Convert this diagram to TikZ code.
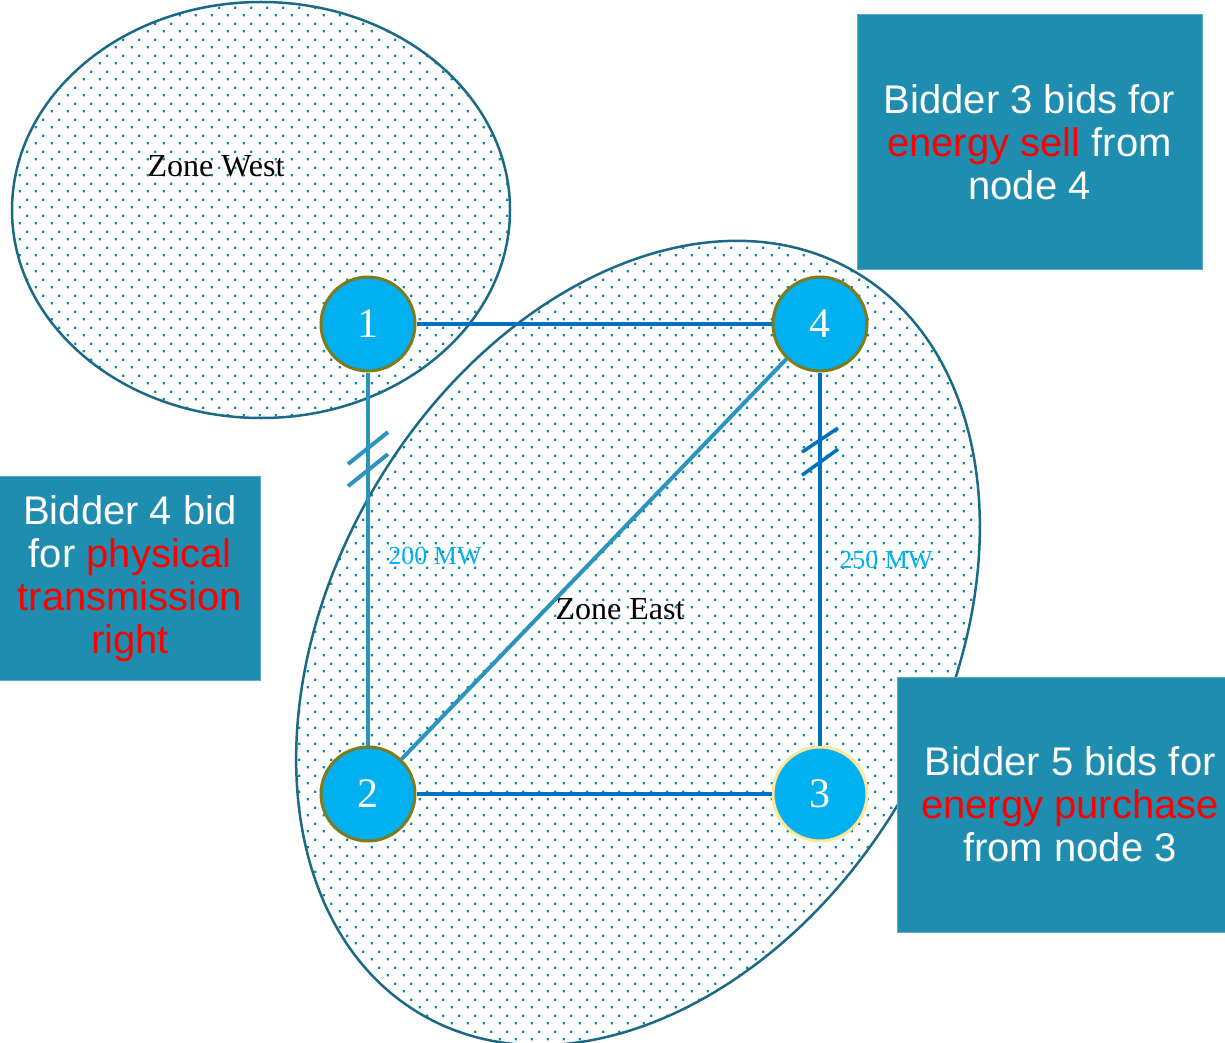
\documentclass[tikz,border=0pt]{standalone}
\usepackage{fontspec}
\setmainfont{Liberation Serif}
\newfontfamily\boxfont{Liberation Sans}
\usetikzlibrary{patterns,calc}

\definecolor{zoneline}{HTML}{1A6985}
\definecolor{zonedot}{HTML}{1886A6}
\definecolor{busfill}{HTML}{00B0F0}
\definecolor{busrim}{HTML}{7F7A1C}
\definecolor{busrimlight}{HTML}{FFE699}
\definecolor{linedark}{HTML}{0070C0}
\definecolor{linelight}{HTML}{2A93C0}
\definecolor{boxfill}{HTML}{1F8DB0}
\definecolor{boxedge}{HTML}{5AAAC8}
\definecolor{bidred}{HTML}{FF0000}
\definecolor{mwcol}{HTML}{00B0F0}

% staggered dot grid used to shade the zones
\pgfdeclarepatternformonly{zonedots}{\pgfqpoint{0pt}{0pt}}{\pgfqpoint{16pt}{16pt}}{\pgfqpoint{16pt}{16pt}}{%
  \pgfpathrectangle{\pgfqpoint{2.8pt}{2.8pt}}{\pgfqpoint{2.4pt}{2.4pt}}%
  \pgfpathrectangle{\pgfqpoint{10.8pt}{10.8pt}}{\pgfqpoint{2.4pt}{2.4pt}}%
  \pgfusepath{fill}%
}

\begin{document}
\begin{tikzpicture}[x=1pt,y=-1pt,
  zone/.style={draw=zoneline, line width=2.5pt, pattern=zonedots, pattern color=zonedot},
  zonelabel/.style={font=\fontsize{32}{32}\selectfont, text=black, inner sep=0pt},
  bus/.style={circle, fill=busfill, draw=busrim, line width=3pt, minimum size=94pt,
    inner sep=0pt, text=white, font=\fontsize{42}{42}\selectfont},
  darkline/.style={draw=linedark, line width=4pt},
  lightline/.style={draw=linelight, line width=4pt},
  limit/.style={font=\fontsize{26}{26}\selectfont, text=mwcol, inner sep=0pt},
  bidbox/.style={rectangle, fill=boxfill, draw=boxedge, line width=1pt, text=white,
    align=center, inner sep=0pt, font=\boxfont\fontsize{40}{43}\selectfont},
]
\useasboundingbox (0,0) rectangle (1225,1043);
\clip (0,0) rectangle (1225,1043);

% zones
\path[zone] (261,210) ellipse [x radius=249pt, y radius=208pt];
\path[zone, rotate around={59.7:(638,643)}] (638,643) ellipse [x radius=430pt, y radius=306pt];

\node[zonelabel] (west) at (216,166) {Zone West};
\node[zonelabel] (east) at (620,609) {Zone East};

% buses
\node[bus] (n1) at (368,324) {1};
\node[bus] (n4) at (820,324) {4};
\node[bus] (n2) at (368,794) {2};
\node[bus, draw=busrimlight] (n3) at (820,794) {3};

% lines
\draw[darkline] (n1) -- (n4);
\draw[lightline] (n1) -- (n2);
\draw[lightline] (n2) -- (n4);
\draw[darkline] (n4) -- (n3);
\draw[darkline] (n2) -- (n3);

% constraint marks on the limited lines
\draw[lightline] ($(n1)!0.264!(n2)$) ++(-20,16) -- ++(40,-32);
\draw[lightline] ($(n1)!0.311!(n2)$) ++(-20,16) -- ++(40,-32);
\draw[darkline, line width=3.5pt] ($(n4)!0.247!(n3)$) ++(-18,12) -- ++(36,-24);
\draw[darkline, line width=3.5pt] ($(n4)!0.294!(n3)$) ++(-18,13) -- ++(36,-26);

\node[limit] (mw12) at (435,556) {200 MW};
\node[limit] (mw43) at (886,560) {250 MW};

% bids
\node[bidbox, minimum width=345pt, minimum height=254pt] (bid3) at (1029.5,142)
  {Bidder 3 bids for\\ \textcolor{bidred}{energy sell} from\\ node 4};
\node[bidbox, minimum width=261pt, minimum height=204pt] (bid4) at (130,578.5)
  {Bidder 4 bid\\ for \textcolor{bidred}{physical}\\ \textcolor{bidred}{transmission}\\ \textcolor{bidred}{right}};
\node[bidbox, minimum width=346pt, minimum height=255pt] (bid5) at (1070,804.5)
  {Bidder 5 bids for\\ \textcolor{bidred}{energy purchase}\\ from node 3};
\end{tikzpicture}
\end{document}
